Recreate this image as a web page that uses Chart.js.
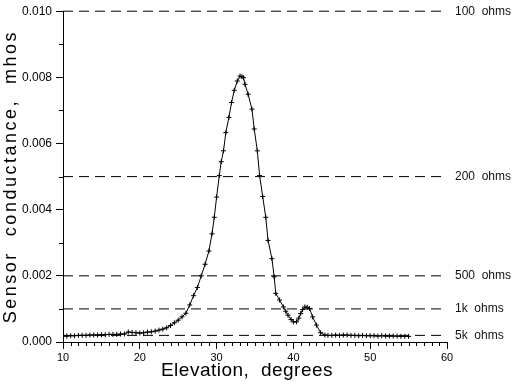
<!DOCTYPE html>
<html>
<head>
<meta charset="utf-8">
<script src="https://cdn.jsdelivr.net/npm/chart.js@4.4.1/dist/chart.umd.min.js"></script>
<style>
  body { margin: 0; background: #fff; }
</style>
</head>
<body>
<canvas id="sensorChart" width="512" height="384"></canvas>
<script>
// elevation (degrees) vs sensor conductance (mhos)
let elevation = [
  10, 10.5, 11, 11.5, 12, 12.5, 13, 13.5, 14, 14.5,
  15, 15.5, 16, 16.5, 17, 17.5, 18, 18.5, 19, 19.5,
  20, 20.5, 21, 21.5, 22, 22.5, 23, 23.5, 24, 24.5,
  25, 25.5, 26, 26.5, 27, 27.5, 28, 28.5, 29,
  29.4, 29.7, 30, 30.35, 30.6, 30.9, 31.2, 31.6, 31.95, 32.3,
  32.7, 33.05, 33.3, 33.5, 33.7, 34.1, 34.6, 34.9, 35.3, 35.6,
  36, 36.4, 36.7, 37.2, 37.5, 37.7, 38.2, 38.7, 39, 39.3,
  39.7, 40, 40.4, 40.7, 40.95, 41.2, 41.5, 41.8, 42.1, 42.5,
  43, 43.55, 44.1,
  44.5, 45, 45.5, 46, 46.5, 47, 47.5, 48, 48.5, 49,
  49.5, 50, 50.5, 51, 51.5, 52, 52.5, 53, 53.5, 54,
  54.5, 55
];
let conductance = [
  0.00018, 0.00018, 0.00019, 0.00019, 0.00020, 0.00020, 0.00020, 0.00021, 0.00021, 0.00021,
  0.00022, 0.00022, 0.00023, 0.00023, 0.00023, 0.00024, 0.00024, 0.00030, 0.00029, 0.00028,
  0.00027, 0.00028, 0.00030, 0.00031, 0.00033, 0.00036, 0.00039, 0.00043, 0.00050, 0.00058,
  0.00066, 0.00076, 0.00087, 0.00112, 0.00140, 0.00165, 0.00200, 0.00235, 0.00275,
  0.00327, 0.00377, 0.00438, 0.00503, 0.00545, 0.00578, 0.00633, 0.00679, 0.00724, 0.00761,
  0.00789, 0.00804, 0.00802, 0.00799, 0.00779, 0.00749, 0.00704, 0.00644, 0.00578, 0.00503,
  0.00440, 0.00377, 0.00307, 0.00252, 0.00197, 0.00147, 0.00127, 0.00106, 0.00093, 0.00081,
  0.00068, 0.00061, 0.00061, 0.00072, 0.00086, 0.00098, 0.00106, 0.00105, 0.00101, 0.00076,
  0.00051, 0.00028, 0.00021,
  0.00020, 0.00020, 0.00021, 0.00020, 0.00021, 0.00021, 0.00020, 0.00020, 0.00019, 0.00020,
  0.00019, 0.00019, 0.00019, 0.00018, 0.00019, 0.00018, 0.00018, 0.00018, 0.00018, 0.00017,
  0.00017, 0.00017
];

// resistance reference levels (conductance = 1/R)
let levelLabels = ['100  ohms', '200  ohms', '500  ohms', '1k  ohms', '5k  ohms'];
let levelValues = [0.010, 0.005, 0.002, 0.001, 0.0002];

let fontName = '"Liberation Sans", Arial, sans-serif';

let datasets = [{
  data: elevation.map((e, i) => ({ x: e, y: conductance[i] })),
  borderColor: '#000',
  borderWidth: 1,
  pointStyle: 'cross',
  pointRadius: 2.5,
  pointBorderWidth: 1,
  pointBorderColor: '#000',
  tension: 0
}];

levelValues.forEach(v => {
  datasets.push({
    data: [{ x: 10, y: v }, { x: 60, y: v }],
    borderColor: '#000',
    borderWidth: 1,
    borderDash: [10, 6],
    pointRadius: 0,
    clip: false
  });
});

// wrap a scale's title drawing (letter spacing / small shift)
function tweakTitle(chart, scale, spacing, dx) {
  if (scale._tweaked) return;
  let orig = scale.drawTitle;
  scale.drawTitle = function () {
    chart.ctx.save();
    chart.ctx.letterSpacing = spacing;
    chart.ctx.translate(dx, 0);
    orig.apply(this, arguments);
    chart.ctx.restore();
  };
  scale._tweaked = true;
}

// minor ticks, right hand labels
let extras = {
  id: 'extras',
  beforeDraw(chart) {
    tweakTitle(chart, chart.scales.y, '2.5px', 0);
    tweakTitle(chart, chart.scales.x, '0.5px', -8);
  },
  afterDraw(chart) {
    let ctx = chart.ctx;
    let x = chart.scales.x;
    let y = chart.scales.y;
    ctx.save();
    ctx.strokeStyle = '#000';
    ctx.lineWidth = 1;
    ctx.beginPath();
    for (let v = 11; v < 60; v++) {
      if (v % 10 === 0) continue;
      let px = Math.round(x.getPixelForValue(v)) + 0.5;
      ctx.moveTo(px, y.bottom);
      ctx.lineTo(px, y.bottom + 4);
    }
    for (let k = 1; k < 10; k += 2) {
      let py = Math.round(y.getPixelForValue(k / 1000)) + 0.5;
      ctx.moveTo(x.left - 4, py);
      ctx.lineTo(x.left, py);
    }
    ctx.stroke();

    ctx.fillStyle = '#111';
    ctx.font = '12px ' + fontName;
    ctx.textBaseline = 'middle';
    levelLabels.forEach((t, i) => {
      ctx.fillText(t, x.right + 8, y.getPixelForValue(levelValues[i]));
    });
    ctx.restore();
  }
};

let ctx = document.getElementById('sensorChart').getContext('2d');

let sensorChart = new Chart(ctx, {
  type: 'line',
  data: { datasets: datasets },
  options: {
    responsive: false,
    animation: false,
    layout: { padding: { top: 10, right: 65, left: 0, bottom: 0 } },
    plugins: {
      legend: { display: false },
      tooltip: { enabled: false }
    },
    scales: {
      x: {
        type: 'linear',
        min: 10,
        max: 60,
        ticks: { stepSize: 10, color: '#000', padding: 2, font: { family: fontName, size: 11 } },
        grid: { drawOnChartArea: false, tickLength: 7, color: '#000' },
        border: { color: '#000' },
        title: {
          display: true,
          text: 'Elevation,  degrees',
          color: '#000',
          font: { family: fontName, size: 19 },
          padding: { top: 0, bottom: 2 }
        },
        afterFit(s) { s.height = 42; }
      },
      y: {
        min: 0,
        max: 0.010,
        ticks: {
          stepSize: 0.002,
          color: '#000',
          padding: 4,
          font: { family: fontName, size: 12 },
          callback: v => v.toFixed(3)
        },
        grid: { drawOnChartArea: false, tickLength: 7, color: '#000' },
        border: { color: '#000' },
        title: {
          display: true,
          text: 'Sensor  conductance,  mhos',
          color: '#000',
          font: { family: fontName, size: 18 },
          padding: { top: 0, bottom: 0 }
        },
        afterFit(s) { s.width = 63; }
      }
    }
  },
  plugins: [extras]
});
</script>
</body>
</html>
